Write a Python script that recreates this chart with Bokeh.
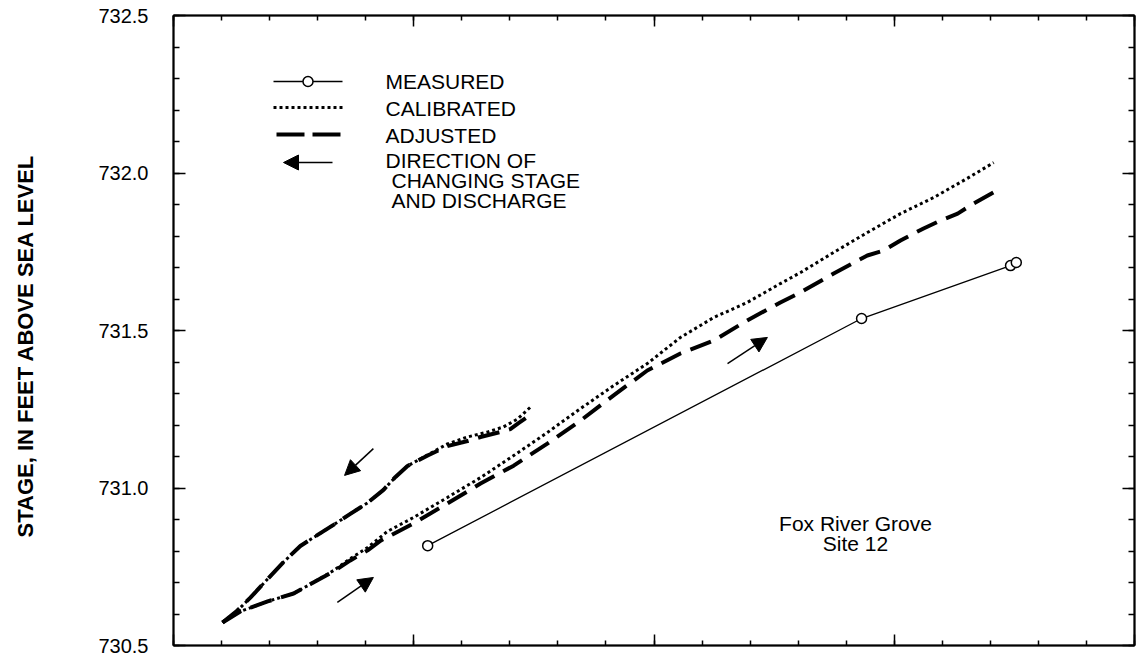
from bokeh.plotting import figure
from bokeh.models import (Range1d, LinearAxis, FixedTicker, PrintfTickFormatter,
                          CustomJSTickFormatter, Label, Arrow, NormalHead)
from bokeh.embed import file_html
from bokeh.resources import INLINE

# ---------------- data ----------------
meas_x = [5.29, 14.32, 17.42, 17.54]
meas_y = [730.817, 731.538, 731.706, 731.716]

cal_rise_x = [1.02, 1.39, 1.96, 2.50, 2.91, 3.33, 3.68, 4.04, 4.45, 4.99, 5.70, 6.39, 7.08, 7.78,
              8.47, 9.16, 9.86, 10.55, 11.24, 11.94, 12.63, 13.05, 13.74, 14.44, 15.13, 15.82,
              16.52, 17.07]
cal_rise_y = [730.573, 730.608, 730.640, 730.665, 730.700, 730.738, 730.776, 730.811, 730.862,
              730.906, 730.970, 731.033, 731.103, 731.176, 731.252, 731.325, 731.395, 731.478,
              731.541, 731.589, 731.649, 731.684, 731.748, 731.811, 731.871, 731.922, 731.983,
              732.033]

cal_fall_x = [1.02, 1.33, 1.60, 1.96, 2.29, 2.64, 3.00, 3.33, 3.68, 4.04, 4.37, 4.62, 4.87,
              5.29, 5.70, 6.12, 6.54, 6.87, 7.16, 7.43]
cal_fall_y = [730.573, 730.611, 730.652, 730.711, 730.765, 730.816, 730.851, 730.883, 730.918,
              730.953, 730.994, 731.035, 731.070, 731.105, 731.140, 731.162, 731.178, 731.194,
              731.219, 731.257]

adj_rise_x = [1.02, 1.39, 1.96, 2.50, 2.91, 3.33, 3.68, 4.04, 4.31, 4.99, 5.70, 6.39, 7.08, 7.78,
              8.47, 9.16, 9.86, 10.55, 11.24, 11.94, 12.63, 13.05, 13.74, 14.44, 14.78, 15.13,
              15.61, 15.96, 16.32, 16.65, 17.21]
adj_rise_y = [730.573, 730.608, 730.640, 730.665, 730.700, 730.735, 730.770, 730.802, 730.833,
              730.887, 730.951, 731.014, 731.071, 731.141, 731.214, 731.294, 731.373, 731.427,
              731.468, 731.532, 731.589, 731.621, 731.681, 731.738, 731.754, 731.786, 731.824,
              731.849, 731.871, 731.903, 731.951]

adj_fall_x = [1.02, 1.33, 1.60, 1.96, 2.29, 2.64, 3.00, 3.33, 3.68, 4.04, 4.37, 4.62, 4.87,
              5.29, 5.70, 6.12, 6.39, 6.81, 7.01, 7.18, 7.33]
adj_fall_y = [730.573, 730.611, 730.652, 730.711, 730.765, 730.816, 730.851, 730.883, 730.918,
              730.953, 730.994, 731.035, 731.070, 731.103, 731.133, 731.149, 731.162, 731.178,
              731.187, 731.206, 731.222]

# direction arrows: (x_start, y_start, x_end, y_end)
dir_arrows = [(4.16, 731.125, 3.56, 731.040),
              (3.41, 730.637, 4.16, 730.716),
              (11.53, 731.395, 12.36, 731.478)]

y_ticks = [730.5, 731.0, 731.5, 732.0, 732.5]
y_minor = [round(730.5 + 0.1 * i, 1) for i in range(21)]
x_ticks = [0, 5, 10, 15, 20]
x_minor = list(range(21))

legend_labels = ["MEASURED", "CALIBRATED", "ADJUSTED", "DIRECTION OF",
                 "CHANGING STAGE", "AND DISCHARGE"]
y_title = "STAGE,  IN  FEET  ABOVE  SEA  LEVEL"
site_lines = ["Fox River Grove", "Site 12"]

# ---------------- layout ----------------
W, H = 1136, 655
L, R, T, B = 173, 1134, 15, 645
X0, X1 = 0, 20
Y0, Y1 = 730.5, 732.5
FONT = "Liberation Sans"


def dx(px):
    return X0 + (px - L) * (X1 - X0) / (R - L)


def dy(py):
    return Y0 + (B - py) * (Y1 - Y0) / (B - T)


p = figure(width=W, height=H, x_range=Range1d(X0, X1), y_range=Range1d(Y0, Y1),
           output_backend="svg", toolbar_location=None,
           x_axis_location=None, y_axis_location=None,
           min_border_left=L, min_border_right=W - R, min_border_top=T, min_border_bottom=H - B)
p.grid.visible = False
p.outline_line_color = "black"
p.outline_line_width = 1.5
p.background_fill_color = "white"
p.border_fill_color = "white"

blank = CustomJSTickFormatter(code="return ''")


def style(ax, major_in, minor_in):
    ax.axis_line_color = "black"
    ax.axis_line_width = 2
    ax.major_tick_line_color = "black"
    ax.minor_tick_line_color = "black"
    ax.major_tick_line_width = 1.5
    ax.minor_tick_line_width = 1.5
    ax.major_tick_in = major_in
    ax.major_tick_out = 0
    ax.minor_tick_in = minor_in
    ax.minor_tick_out = 0


left = LinearAxis(ticker=FixedTicker(ticks=y_ticks, minor_ticks=y_minor),
                  formatter=PrintfTickFormatter(format="%.1f"))
style(left, 12, 6)
left.major_label_text_font = FONT
left.major_label_text_font_size = "20px"
left.major_label_text_color = "black"
left.major_label_standoff = 25
left.axis_label = y_title
left.axis_label_text_font = FONT
left.axis_label_text_font_size = "22px"
left.axis_label_text_font_style = "bold"
left.axis_label_text_color = "black"
left.axis_label_standoff = 57
p.add_layout(left, "left")

for side, ticks, minor in (("right", y_ticks, y_minor), ("above", x_ticks, x_minor),
                           ("below", x_ticks, x_minor)):
    ax = LinearAxis(ticker=FixedTicker(ticks=ticks, minor_ticks=minor), formatter=blank)
    style(ax, 11 if side != "right" else 12, 5 if side != "right" else 6)
    ax.major_label_text_font_size = "0px"
    ax.major_label_standoff = 0
    p.add_layout(ax, side)

# ---------------- data series ----------------
DOT = dict(line_color="black", line_width=3, line_dash="3 3")
DASH = dict(line_color="black", line_width=4, line_dash="22 10")

p.line(cal_rise_x, cal_rise_y, **DOT)
p.line(cal_fall_x, cal_fall_y, **DOT)
p.line(adj_rise_x, adj_rise_y, **DASH)
p.line(adj_fall_x, adj_fall_y, **DASH)
p.line(meas_x, meas_y, line_color="black", line_width=1.3)
p.scatter(meas_x, meas_y, marker="circle", size=10, line_color="black", line_width=1.5,
          fill_color="white")

for xs, ys, xe, ye in dir_arrows:
    p.add_layout(Arrow(x_start=xs, y_start=ys, x_end=xe, y_end=ye, line_width=1.5,
                       end=NormalHead(size=15, fill_color="black", line_color="black")))

# ---------------- legend (drawn as a key) ----------------
rows = [81, 107, 134, 162]
s0, s1 = 273, 342
p.line([dx(s0), dx(s1)], [dy(rows[0])] * 2, line_color="black", line_width=1.3)
p.scatter([dx((s0 + s1) / 2)], [dy(rows[0])], marker="circle", size=10, line_color="black",
          line_width=1.5, fill_color="white")
p.line([dx(s0), dx(s1)], [dy(rows[1])] * 2, **DOT)
p.line([dx(s0 + 3), dx(s1)], [dy(rows[2])] * 2, line_color="black", line_width=4,
       line_dash="28 8")
p.add_layout(Arrow(x_start=dx(332), y_start=dy(rows[3]), x_end=dx(283), y_end=dy(rows[3]),
                   line_width=1.5, end=NormalHead(size=15, fill_color="black",
                                                  line_color="black")))

label_pos = [(385, 81), (385, 108), (385, 135), (385, 160), (391, 180), (391, 200)]
for txt, (lx, ly) in zip(legend_labels, label_pos):
    p.add_layout(Label(x=dx(lx), y=dy(ly), text=txt, text_font=FONT, text_font_size="21px",
                       text_color="black", text_align="left", text_baseline="middle"))

for txt, ly in zip(site_lines, (523, 543)):
    p.add_layout(Label(x=dx(855), y=dy(ly), text=txt, text_font=FONT, text_font_size="21px",
                       text_color="black", text_align="center", text_baseline="middle"))

open("out.html", "w").write(file_html(p, INLINE))
